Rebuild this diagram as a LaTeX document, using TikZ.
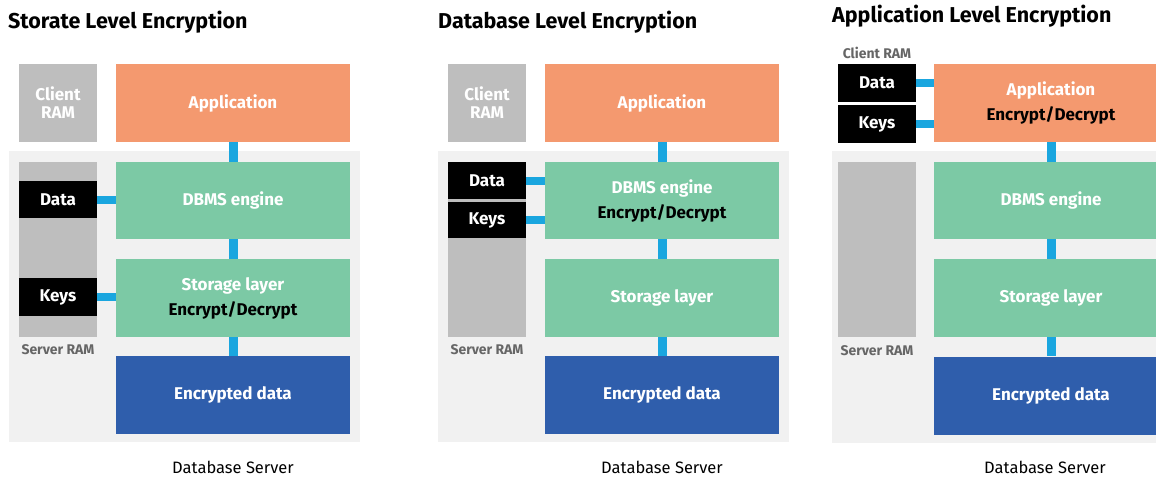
\documentclass[tikz,border=0pt]{standalone}
\usepackage{fontspec}
\setmainfont{Fira Sans}
\definecolor{orangebox}{HTML}{F4996F}
\definecolor{greenbox}{HTML}{7CC9A5}
\definecolor{bluebox}{HTML}{2F5EAC}
\definecolor{wire}{HTML}{1AA6DF}
\definecolor{ramgray}{HTML}{BEBEBE}
\definecolor{bggray}{HTML}{F1F1F1}
\definecolor{labgray}{HTML}{666666}
\tikzset{
  box/.style={draw=none, inner sep=0pt, align=center, font=\bfseries\fontsize{17}{25}\selectfont, text=white},
  layer/.style={box, minimum width=234pt},
  ram/.style={box, fill=ramgray, minimum width=78pt},
  blackbox/.style={box, fill=black, minimum width=78pt},
  wireV/.style={draw=wire, line width=9pt},
  wireH/.style={draw=wire, line width=8pt},
  title/.style={anchor=west, inner sep=0pt, font=\bfseries\fontsize{21.5}{24}\selectfont},
  smalllab/.style={inner sep=0pt, text=labgray, font=\bfseries\fontsize{14}{16}\selectfont},
  foot/.style={inner sep=0pt, font=\fontsize{16.5}{18}\selectfont}
}
\begin{document}
\begin{tikzpicture}[x=1pt, y=-1pt]
\useasboundingbox (0,0) rectangle (1156,477);
\clip (0,0) rectangle (1156,477);
\fill[white] (0,0) rectangle (1156,477);

% ---------- Panel 1: Storage level ----------
\fill[bggray] (9,151) rectangle (360,442);
\node[title] (t1) at (8,22) {Storate Level Encryption};
\node[ram, minimum height=78pt] (cr1) at (58,103) {Client\\[-7pt]RAM};
\node[layer, fill=orangebox, minimum height=78pt] (app1) at (233,103) {Application};
\node[layer, fill=greenbox, minimum height=77pt] (db1) at (233,200.5) {DBMS engine};
\node[layer, fill=greenbox, minimum height=78pt] (st1) at (233,298) {Storage layer\\{\color{black}Encrypt/Decrypt}};
\node[layer, fill=bluebox, minimum height=78pt] (en1) at (233,395) {Encrypted data};
\node[ram, minimum height=175pt] (sr1) at (58,249.5) {};
\node[blackbox, minimum height=37pt] (d1) at (58,199.5) {Data};
\node[blackbox, minimum height=38pt] (k1) at (58,297) {Keys};
\node[smalllab] (srl1) at (58,350) {Server RAM};
\node[foot] (f1) at (233,467) {Database Server};
\draw[wireV] (app1.south) -- (db1.north);
\draw[wireV] (db1.south) -- (st1.north);
\draw[wireV] (st1.south) -- (en1.north);
\draw[wireH] (d1.east) -- (d1.east -| db1.west);
\draw[wireH] (k1.east) -- (k1.east -| st1.west);

% ---------- Panel 2: Database level ----------
\fill[bggray] (438,151) rectangle (789,442);
\node[title] (t2) at (438,22) {Database Level Encryption};
\node[ram, minimum height=78pt] (cr2) at (487,103) {Client\\[-7pt]RAM};
\node[layer, fill=orangebox, minimum height=78pt] (app2) at (662,103) {Application};
\node[layer, fill=greenbox, minimum height=77pt] (db2) at (662,200.5) {DBMS engine\\{\color{black}Encrypt/Decrypt}};
\node[layer, fill=greenbox, minimum height=78pt] (st2) at (662,298) {Storage layer};
\node[layer, fill=bluebox, minimum height=78pt] (en2) at (662,395) {Encrypted data};
\node[ram, minimum height=175pt] (sr2) at (487,249.5) {};
\node[blackbox, minimum height=37pt] (d2) at (487,180.5) {Data};
\node[blackbox, minimum height=36pt] (k2) at (487,220) {Keys};
\node[smalllab] (srl2) at (487,350) {Server RAM};
\node[foot] (f2) at (662,467) {Database Server};
\draw[wireV] (app2.south) -- (db2.north);
\draw[wireV] (db2.south) -- (st2.north);
\draw[wireV] (st2.south) -- (en2.north);
\draw[wireH] (d2.east) -- (d2.east -| db2.west);
\draw[wireH] (k2.east) -- (k2.east -| db2.west);

% ---------- Panel 3: Application level ----------
\fill[bggray] (832,151) rectangle (1170,443);
\node[title] (t3) at (832,16) {Application Level Encryption};
\node[smalllab] (crl3) at (877,53) {Client RAM};
\node[layer, fill=orangebox, minimum height=78pt] (app3) at (1051,103) {Application\\{\color{black}Encrypt/Decrypt}};
\node[layer, fill=greenbox, minimum height=77pt] (db3) at (1051,200.5) {DBMS engine};
\node[layer, fill=greenbox, minimum height=78pt] (st3) at (1051,298) {Storage layer};
\node[layer, fill=bluebox, minimum height=78pt] (en3) at (1051,395.5) {Encrypted data};
\node[ram, minimum height=175pt] (sr3) at (877,249.5) {};
\node[blackbox, minimum height=38pt] (d3) at (877,83) {Data};
\node[blackbox, minimum height=38pt] (k3) at (877,124) {Keys};
\node[smalllab] (srl3) at (877,351) {Server RAM};
\node[foot] (f3) at (1045,467) {Database Server};
\draw[wireV] (app3.south) -- (db3.north);
\draw[wireV] (db3.south) -- (st3.north);
\draw[wireV] (st3.south) -- (en3.north);
\draw[wireH] (d3.east) -- (d3.east -| app3.west);
\draw[wireH] (k3.east) -- (k3.east -| app3.west);
\end{tikzpicture}
\end{document}
